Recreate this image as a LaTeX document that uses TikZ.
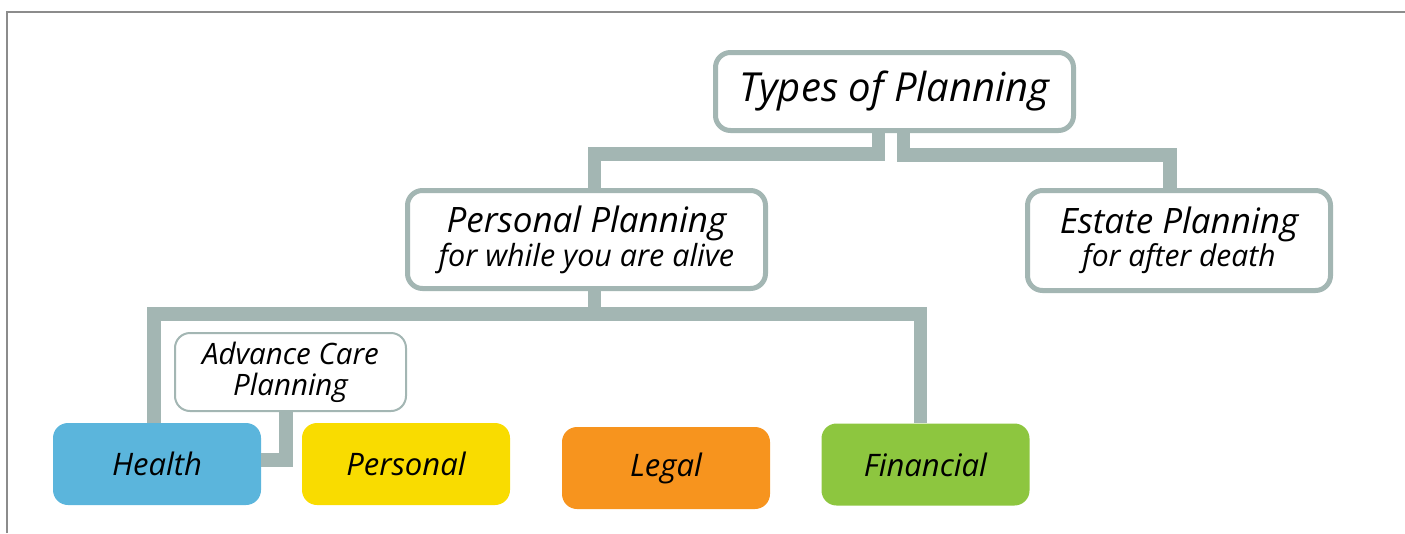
\documentclass[tikz,border=0pt]{standalone}
\usepackage{fontspec}
\setmainfont{Open Sans}
\definecolor{linkgray}{HTML}{A3B6B3}
\definecolor{framegray}{HTML}{8C8C8C}
\definecolor{healthblue}{HTML}{5BB5DC}
\definecolor{persyellow}{HTML}{F9DC00}
\definecolor{legalorange}{HTML}{F7941E}
\definecolor{fingreen}{HTML}{8DC63F}
\begin{document}
\begin{tikzpicture}[x=1pt,y=-1pt,
    box/.style={draw=linkgray, line width=5pt, rounded corners=15pt, fill=white, align=center, font=\itshape, inner sep=0pt},
    leaf/.style={rounded corners=15pt, minimum width=208pt, minimum height=82pt, font=\itshape\fontsize{31}{34}\selectfont},
    link/.style={draw=linkgray, line width=13.5pt, line join=miter}]
\useasboundingbox (0,0) rectangle (1405,533);
\draw[framegray, line width=1.5pt](7,533)--(7,12)--(1405,12);

\node[box, minimum width=358pt, minimum height=78pt, font=\itshape\fontsize{40}{44}\selectfont] (types) at (894.5,91.5) {Types of Planning};
\node[box, minimum width=358pt, minimum height=98pt] (pers) at (586.5,239.5)
    {{\fontsize{35}{38}\selectfont Personal Planning}\\[1pt]{\fontsize{30.5}{33}\selectfont for while you are alive}};
\node[box, minimum width=303pt, minimum height=100pt] (estate) at (1179,240.5)
    {{\fontsize{35}{38}\selectfont Estate Planning}\\[1pt]{\fontsize{30}{33}\selectfont for after death}};
\node[box, line width=2pt, minimum width=231pt, minimum height=78pt, font=\itshape\fontsize{29.5}{31}\selectfont] (acp) at (290.5,372)
    {Advance Care\\Planning};

\foreach \name/\txt/\col/\x/\y in {health/Health/healthblue/157/464, personal/Personal/persyellow/406/464,
    legal/Legal/legalorange/666/468, fin/Financial/fingreen/925.5/464.5}
{
    \node[leaf, fill=\col] (\name) at (\x,\y) {\txt};
}

\draw[link]([xshift=-16pt]types.south)--++(0,21)-|([xshift=8pt]pers.north);
\draw[link]([xshift=9pt]types.south)--++(0,22)-|([xshift=-9pt]estate.north);
\draw[link]([xshift=8pt]pers.south)--++(0,23)-|([xshift=-3pt]health.north);
\draw[link]([xshift=8pt]pers.south)--++(0,23)-|([xshift=-5pt]fin.north);
\draw[link]([xshift=-4.5pt]acp.south)|-([yshift=4pt]health.east);
\end{tikzpicture}
\end{document}
